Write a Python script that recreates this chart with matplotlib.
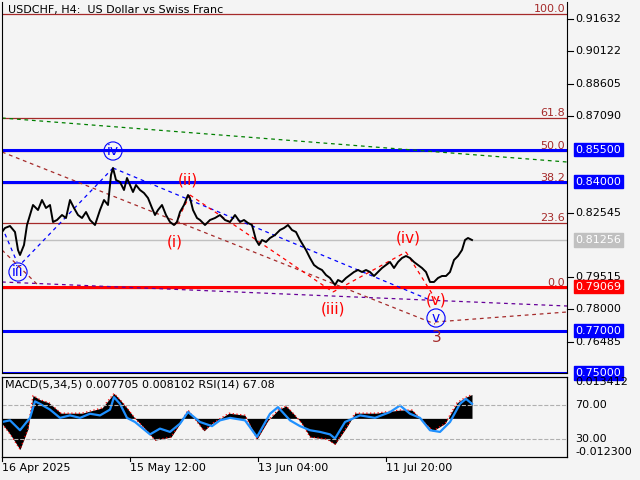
import matplotlib
matplotlib.use("Agg")
import matplotlib.pyplot as plt
import matplotlib.transforms as mt
import numpy as np

# price path (bar position, close)
bx = [2,5,10,15,18,20,24,27,30,33,38,42,46,50,53,57,62,66,70,74,78,82,86,90,95,100,104,108,111,113,116,120,124,127,130,133,136,140,144,148,152,155,158,162,166,170,174,177,180,184,188,190,193,197,200,205,210,215,220,225,230,235,240,244,248,252,256,259,262,266,270,275,280,284,288,292,296,300,303,306,310,314,318,322,326,330,335,338,342,346,350,354,358,362,366,370,374,378,382,386,390,394,398,402,406,410,414,418,422,426,430,434,438,442,446,450,454,458,462,465,468,472]
by = [232,228,226,232,250,255,245,225,215,205,210,200,208,205,222,220,215,218,200,208,215,218,212,220,225,210,200,205,175,168,180,182,190,178,185,192,185,190,193,198,208,215,210,205,215,222,225,222,212,205,195,198,210,218,220,225,220,218,215,220,222,215,222,220,223,225,240,245,240,242,238,235,230,228,225,230,232,240,245,250,258,265,268,270,275,278,285,280,282,278,275,272,270,272,270,272,276,272,268,265,262,268,262,258,256,258,262,265,268,272,282,282,278,276,276,272,260,256,250,240,238,240]
close = [round(0.81256 - (y - 240) * 0.00047, 5) for y in by]

# MACD histogram and RSI
mx = [2,10,20,28,33,40,49,61,82,102,114,120,127,135,145,155,171,180,188,196,204,212,229,245,257,268,278,286,294,302,310,327,335,347,355,376,400,412,420,433,445,457,465,472]
mh = [-5,-15,-30,-10,22,18,15,5,5,10,24,18,10,0,-10,-21,-18,-5,8,-2,-12,-5,5,3,-20,-2,8,12,4,-5,-18,-20,-25,-8,5,5,8,8,0,-12,-5,15,20,23]
macd = [round(v * 0.000384, 5) for v in mh]
rx = [2,10,20,30,35,40,50,60,70,80,90,100,110,114,120,127,135,150,160,170,180,188,200,212,220,230,245,257,270,278,290,300,310,320,330,335,345,360,375,390,400,410,420,430,440,450,460,466,472]
rsi = [50,52,40,55,75,72,65,55,58,55,60,58,65,80,72,55,50,35,42,38,48,62,50,45,52,55,52,32,60,68,52,45,40,38,35,30,50,58,55,62,70,60,55,40,38,50,72,78,72]

ticks_main = [0.91632,0.90122,0.88605,0.87090,0.82545,0.79515,0.78000,0.76485]
boxed = [(0.85500,'#0000ff','white'),(0.84000,'#0000ff','white'),(0.77000,'#0000ff','white'),(0.75000,'#0000ff','white'),(0.79069,'#ff0000','white'),(0.81256,'#c0c0c0','white')]
fib = [(0.0,0.7900),(23.6,0.8204),(38.2,0.8393),(50.0,0.8545),(61.8,0.8697),(100.0,0.9190)]
date_pos = [2,130,258,386]
date_lbl = ['16 Apr 2025','15 May 12:00','13 Jun 04:00','11 Jul 20:00']

bg = '#f4f4f4'
fig = plt.figure(figsize=(6.4,4.8), dpi=100, facecolor=bg)
W,H = 640,480
ax = fig.add_axes([2/W, 1-373/H, 565/W, 371/H], facecolor=bg)
ax2 = fig.add_axes([2/W, 1-457/H, 565/W, 80/H], facecolor=bg)
def p(y): return 0.81256 - (y - 240) * 0.00047
ax.set_xlim(2,567); ax.set_ylim(p(373), p(2))
for a in (ax, ax2):
    a.set_xticks([]); a.set_yticks([])
    for s in a.spines.values(): s.set_color('black'); s.set_linewidth(0.8)
ax.spines['top'].set_visible(False)

for lvl,v in fib:
    ax.axhline(v, color='#a52a2a', lw=0.9)
    ax.text(565, v, f'{lvl:.1f}', color='#a52a2a', fontsize=8, ha='right', va='bottom')
ax.axhline(0.81256, color='#c0c0c0', lw=1)
for v in (0.855,0.84,0.77,0.75):
    ax.axhline(v, color='#0000ff', lw=2.2)
ax.axhline(0.79069, color='#ff0000', lw=2.2)

def seg(x0,y0,x1,y1,c,ls=(0,(3,3)),lw=0.9):
    ax.plot([x0,x1],[p(y0),p(y1)], color=c, ls=ls, lw=lw)
seg(2,118,567,162,'#008000')
seg(2,152,435,324,'#a52a2a'); seg(435,322,567,312,'#a52a2a')
seg(2,282,567,306,'#660099')
seg(2,227,17,262,'#0000ff'); seg(17,268,113,168,'#0000ff'); seg(113,168,430,300,'#0000ff')
seg(2,250,40,287,'#a52a2a')
seg(175,225,190,195,'#ff0000'); seg(190,195,333,292,'#ff0000'); seg(333,292,406,252,'#ff0000'); seg(406,252,436,300,'#ff0000')

ax.plot(bx, close, color='black', lw=1.4)

def circ(x,y,t):
    ax.text(x,p(y),t,color='#0000ff',fontsize=10,ha='center',va='center',
            bbox=dict(boxstyle='circle,pad=0.15',fc='none',ec='#0000ff',lw=0.8))
circ(18,272,'iii'); circ(113,151,'iv'); circ(436,318,'v')
for x,y,t in [(175,242,'(i)'),(188,180,'(ii)'),(333,309,'(iii)'),(408,238,'(iv)'),(436,300,'(v)')]:
    ax.text(x,p(y),t,color='#ff0000',fontsize=11,ha='center',va='center')
ax.text(437,p(338),'3',color='#a52a2a',fontsize=11,ha='center',va='center')
ax.text(8,p(10),'USDCHF, H4:  US Dollar vs Swiss Franc',fontsize=8,va='center')

tr = mt.blended_transform_factory(ax.transAxes, ax.transData)
for v in ticks_main:
    ax.plot([1,1.01],[v,v],color='black',lw=0.8,transform=tr,clip_on=False)
    ax.text(1.015,v,f'{v:.5f}',transform=tr,fontsize=8,va='center')
for v,fc,tc in boxed:
    ax.text(1.015,v,f'{v:.5f}',transform=tr,fontsize=8,va='center',color=tc,
            bbox=dict(boxstyle='square,pad=0.15',fc=fc,ec=fc))

ax2.set_xlim(2,567); ax2.set_ylim(-0.0143,0.0153)
ax2.fill_between(mx, 0, macd, color='black', lw=0)
ax2.plot(mx, macd, color='#ff0000', ls=(0,(1,2)), lw=0.9)
ax3 = ax2.twinx(); ax3.set_ylim(7.6,104.5); ax3.set_yticks([]); ax3.set_xlim(2,567)
ax3.plot(rx, rsi, color='#1e90ff', lw=1.6)
for v in (70,30): ax3.axhline(v, color='#b0b0b0', ls='--', lw=0.8)
ax2.text(5,0.0125,'MACD(5,34,5) 0.007705 0.008102 RSI(14) 67.08',fontsize=8,va='center')
tr3 = mt.blended_transform_factory(ax3.transAxes, ax3.transData)
tr2 = mt.blended_transform_factory(ax2.transAxes, ax2.transData)
ax2.text(1.015,0.013412,'0.013412',transform=tr2,fontsize=8,va='center')
ax2.text(1.015,-0.0123,'-0.012300',transform=tr2,fontsize=8,va='center')
ax3.text(1.015,70,'70.00',transform=tr3,fontsize=8,va='center')
ax3.text(1.015,30,'30.00',transform=tr3,fontsize=8,va='center')
trx = mt.blended_transform_factory(ax2.transData, ax2.transAxes)
for x,l in zip(date_pos,date_lbl):
    ax2.plot([x,x],[0,-0.05],color='black',lw=0.8,transform=trx,clip_on=False)
    ax2.text(x,-0.08,l,transform=trx,fontsize=8,va='top',ha='left')
fig.savefig('out.png', dpi=100, facecolor=bg)
